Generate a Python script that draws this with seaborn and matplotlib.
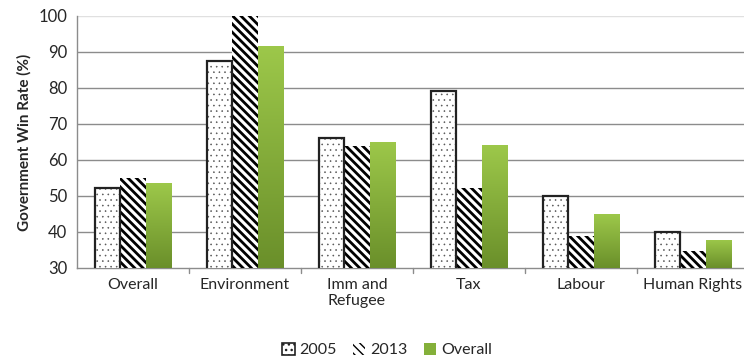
import numpy as np
import pandas as pd
import matplotlib
matplotlib.use("Agg")
import matplotlib.pyplot as plt
import seaborn as sns
from matplotlib.patches import Patch
from matplotlib.colors import LinearSegmentedColormap

categories = ["Overall", "Environment", "Imm and\nRefugee", "Tax", "Labour", "Human Rights"]
series_names = ["2005", "2013", "Overall"]
rate_2005 = [52.2, 87.5, 66.2, 79.2, 50.0, 40.0]
rate_2013 = [55.0, 100.0, 64.0, 52.2, 39.0, 34.7]
rate_overall = [53.6, 91.7, 65.1, 64.1, 45.0, 37.8]
y_ticks = [30, 40, 50, 60, 70, 80, 90, 100]
y_min, y_max = 30, 100

df = pd.DataFrame({
    "category": categories * 3,
    "series": [s for s in series_names for _ in categories],
    "rate": rate_2005 + rate_2013 + rate_overall,
})

sns.set_theme(style="white")
plt.rcParams["font.family"] = ["Lato", "DejaVu Sans"]
plt.rcParams["hatch.linewidth"] = 1.0

fig = plt.figure(figsize=(7.44, 3.6), dpi=100)
ax = fig.add_axes([77 / 744, 1 - 268 / 360, (749 - 77) / 744, (268 - 16) / 360])

sns.barplot(data=df, x="category", y="rate", hue="series", order=categories,
            hue_order=series_names, width=0.67, gap=0, ax=ax, legend=False,
            palette=["white", "white", "#8cb83a"], saturation=1, zorder=3)

# 2005: finely dotted bars with a dark outline
for bar in ax.containers[0]:
    bar.set_facecolor("white")
    bar.set_edgecolor("#222222")
    bar.set_linewidth(1.6)
    bar.set_hatch("...")
    try:
        bar.set_hatch_linewidth(0.4)
        bar._hatch_color = matplotlib.colors.to_rgba("#555555")
    except AttributeError:
        pass
    bar.set_zorder(4)

# 2013: dense diagonal stripes
for bar in ax.containers[1]:
    bar.set_facecolor("white")
    bar.set_edgecolor("black")
    bar.set_linewidth(0)
    bar.set_hatch("\\\\\\\\")
    try:
        bar.set_hatch_linewidth(2.0)
    except AttributeError:
        pass
    bar.set_zorder(3)

# Overall: green vertical gradient clipped to each bar
cmap = LinearSegmentedColormap.from_list("grn", ["#6a8f2a", "#9dc84a"])
grad = np.linspace(0, 1, 256).reshape(-1, 1)
for bar in ax.containers[2]:
    x0 = bar.get_x()
    w, top = bar.get_width(), bar.get_y() + bar.get_height()
    bar.set_facecolor("none")
    bar.set_edgecolor("none")
    im = ax.imshow(grad, cmap=cmap, origin="lower", aspect="auto",
                   extent=[x0, x0 + w, y_min, top], zorder=3)
    im.set_clip_path(bar)

ax.set_ylim(y_min, y_max)
ax.set_xlim(-0.5, len(categories) - 0.5)

# grid lines
for v in y_ticks[1:]:
    ax.axhline(v, color="#8c8c8c" if v < 100 else "#e0e0e0", lw=1.0, zorder=1)

ax.set_yticks(y_ticks)
ax.set_yticklabels([str(v) for v in y_ticks], fontsize=12, color="#262626")
ax.set_xticks(range(len(categories)))
ax.set_xticklabels(categories, fontsize=11.5, color="#262626")
ax.tick_params(axis="x", length=0, pad=7)
ax.tick_params(axis="y", length=4, width=1, color="#8c8c8c", direction="out", pad=3)

# category separators on the baseline
for b in np.arange(0.5, len(categories) - 0.5, 1.0):
    ax.plot([b, b], [y_min, y_min - 1.4], color="#8c8c8c", lw=1, clip_on=False, zorder=1)

for side in ["top", "right"]:
    ax.spines[side].set_visible(False)
for side in ["left", "bottom"]:
    ax.spines[side].set_color("#8c8c8c")
    ax.spines[side].set_linewidth(1)

ax.set_xlabel("")
ax.set_ylabel("Government Win Rate (%)", fontsize=11, fontweight="bold", color="#262626", labelpad=5)

handles = [
    Patch(facecolor="white", edgecolor="#222222", hatch="...", linewidth=1.2, label="2005"),
    Patch(facecolor="white", edgecolor="black", hatch="\\\\\\\\", linewidth=0, label="2013"),
    Patch(facecolor="#84b03a", edgecolor="none", label="Overall"),
]
fig.legend(handles=handles, loc="center", bbox_to_anchor=(0.5 + 0.02, 1 - 350 / 360),
           ncol=3, frameon=False, fontsize=11.5, handlelength=0.8, handleheight=0.8,
           handletextpad=0.3, columnspacing=1.0)

fig.savefig("out.png", dpi=100)
